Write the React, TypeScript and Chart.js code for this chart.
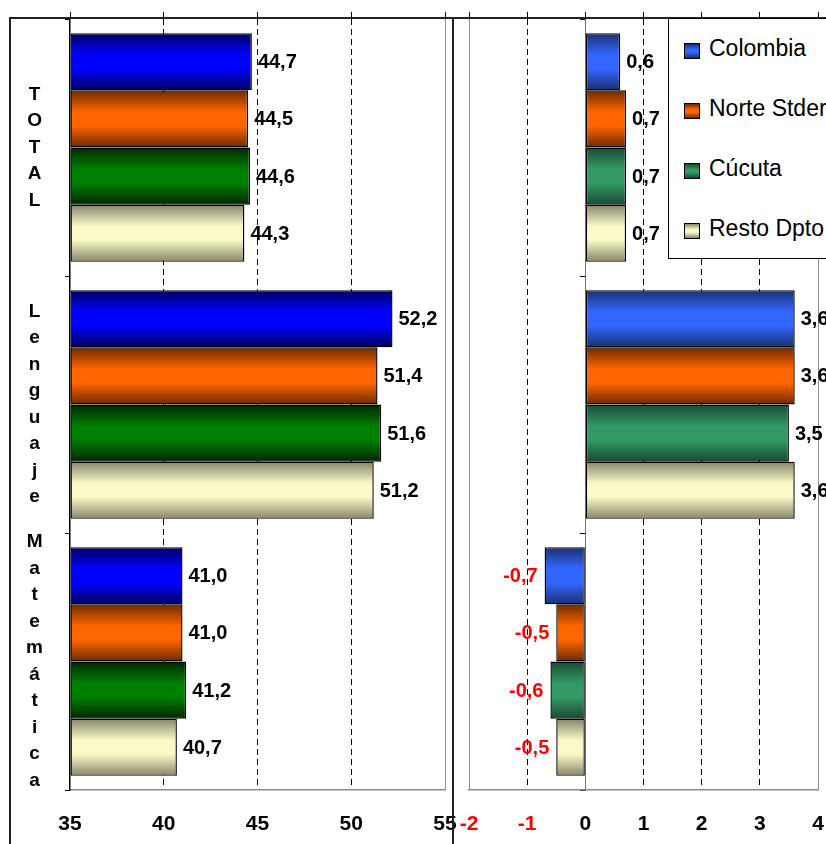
import React, { useEffect, useRef } from 'react';
import { Chart, registerables } from 'chart.js';

Chart.register(...registerables);

// ---------- data ----------
const CATEGORIES = ['TOTAL', 'Lenguaje', 'Matemática'];
const SERIES = ['Colombia', 'Norte Stder', 'Cúcuta', 'Resto Dpto'];

const LEVEL_COLOMBIA = [44.7, 52.2, 41.0];
const LEVEL_NORTE = [44.5, 51.4, 41.0];
const LEVEL_CUCUTA = [44.6, 51.6, 41.2];
const LEVEL_RESTO = [44.3, 51.2, 40.7];

const CHANGE_COLOMBIA = [0.6, 3.6, -0.7];
const CHANGE_NORTE = [0.7, 3.6, -0.5];
const CHANGE_CUCUTA = [0.7, 3.5, -0.6];
const CHANGE_RESTO = [0.7, 3.6, -0.5];

const LEFT_TICKS = [35, 40, 45, 50, 55];
const RIGHT_TICKS = [-2, -1, 0, 1, 2, 3, 4];

const LEVELS = [LEVEL_COLOMBIA, LEVEL_NORTE, LEVEL_CUCUTA, LEVEL_RESTO];
const CHANGES = [CHANGE_COLOMBIA, CHANGE_NORTE, CHANGE_CUCUTA, CHANGE_RESTO];

// ---------- styles ----------
const FONT = '"Liberation Sans", Arial, Helvetica, sans-serif';
const CAT_PCT = 0.89;

const LEFT_COLORS = [
  { bright: '#0000FF', dark: '#000060' },
  { bright: '#FF6600', dark: '#6B2A00' },
  { bright: '#008000', dark: '#002600' },
  { bright: '#FAFAC8', dark: '#85856A' },
];
const RIGHT_COLORS = [
  { bright: '#3366FF', dark: '#1A3070' },
  { bright: '#FF6600', dark: '#6B2A00' },
  { bright: '#339966', dark: '#1A4A33' },
  { bright: '#FAFAC8', dark: '#85856A' },
];

function gradientFill(bright: string, dark: string) {
  return (ctx: any) => {
    const chart = ctx.chart;
    const ys = chart.scales && chart.scales.y;
    if (!chart.chartArea || !ys || ctx.type !== 'data') return bright;
    const n = chart.data.datasets.length;
    const cat = chart.chartArea.height / chart.data.labels.length;
    const group = cat * CAT_PCT;
    const bh = group / n;
    const center = ys.getPixelForValue(ctx.dataIndex);
    const top = center - group / 2 + ctx.datasetIndex * bh;
    const g = chart.ctx.createLinearGradient(0, top, 0, top + bh);
    g.addColorStop(0, dark);
    g.addColorStop(0.38, bright);
    g.addColorStop(0.62, bright);
    g.addColorStop(1, dark);
    return g;
  };
}

const valueLabels = {
  id: 'valueLabels',
  afterDatasetsDraw(chart: any) {
    const { ctx } = chart;
    ctx.save();
    ctx.font = `bold 20px ${FONT}`;
    ctx.textBaseline = 'middle';
    chart.data.datasets.forEach((ds: any, di: number) => {
      const meta = chart.getDatasetMeta(di);
      meta.data.forEach((el: any, i: number) => {
        const v = ds.data[i] as number;
        const txt = v.toFixed(1).replace('.', ',');
        const neg = v < 0;
        ctx.fillStyle = neg ? '#FF0000' : '#000000';
        ctx.textAlign = neg ? 'right' : 'left';
        ctx.fillText(txt, el.x + (neg ? -7 : 6), el.y + 1);
      });
    });
    ctx.restore();
  },
};

function zeroPad(s: any) {
  s.paddingLeft = 0;
  s.paddingRight = 0;
  s.paddingTop = 0;
  s.paddingBottom = 0;
}

function makeConfig(side: 'left' | 'right'): any {
  const isLeft = side === 'left';
  const values = isLeft ? LEVELS : CHANGES;
  const colors = isLeft ? LEFT_COLORS : RIGHT_COLORS;
  const ticks = isLeft ? LEFT_TICKS : RIGHT_TICKS;
  const min = ticks[0];
  const max = ticks[ticks.length - 1];
  const base = isLeft ? min : 0;

  const gridColor = (c: any) => {
    const v = c.tick ? c.tick.value : null;
    if (v === base) return 'rgba(0,0,0,0)';
    if (v === min || v === max) return '#8C8C8C';
    return '#000000';
  };
  const gridDash = (c: any) => {
    const v = c.tick ? c.tick.value : null;
    if (v === null || v === min || v === max || v === base) return [];
    return [6, 4];
  };

  return {
    type: 'bar',
    data: {
      labels: CATEGORIES,
      datasets: SERIES.map((name, i) => ({
        label: name,
        data: values[i],
        base,
        xAxisID: 'x',
        yAxisID: 'y',
        backgroundColor: gradientFill(colors[i].bright, colors[i].dark),
        borderColor: '#000000',
        borderWidth: 1.4,
        borderSkipped: false,
        categoryPercentage: CAT_PCT,
        barPercentage: 1,
      })),
    },
    options: {
      indexAxis: 'y',
      responsive: true,
      maintainAspectRatio: false,
      animation: false,
      events: [],
      layout: {
        padding: isLeft
          ? { top: 12, left: 10, right: 11, bottom: 0 }
          : { top: 12, left: 13, right: 8, bottom: 0 },
      },
      plugins: { legend: { display: false }, tooltip: { enabled: false } },
      scales: {
        x: {
          type: 'linear',
          position: 'bottom',
          min,
          max,
          afterBuildTicks: (s: any) => {
            s.ticks = ticks.map((value) => ({ value }));
          },
          afterFit: (s: any) => {
            s.height = 54;
            zeroPad(s);
          },
          ticks: {
            padding: 22,
            font: { family: FONT, size: 21, weight: 'bold' },
            color: (c: any) => (c.tick && c.tick.value < 0 ? '#FF0000' : '#000000'),
            callback: (v: any) => String(v),
          },
          grid: { drawTicks: false, color: gridColor, lineWidth: 1 },
          border: { display: true, color: '#8C8C8C', width: 1.5, dash: gridDash },
        },
        xTop: {
          type: 'linear',
          position: 'top',
          min,
          max,
          afterBuildTicks: (s: any) => {
            s.ticks = ticks.map((value) => ({ value }));
          },
          afterFit: (s: any) => {
            s.height = 7;
            zeroPad(s);
          },
          ticks: { display: false },
          grid: { drawOnChartArea: false, drawTicks: true, tickLength: 7, color: '#000000' },
          border: { display: false },
        },
        y: isLeft
          ? {
              type: 'category',
              position: 'left',
              afterFit: (s: any) => {
                s.width = 60;
                zeroPad(s);
              },
              ticks: {
                autoSkip: false,
                color: '#000000',
                crossAlign: 'center',
                padding: 22,
                font: { family: FONT, size: 19, weight: 'bold', lineHeight: 26.5 / 19 },
                callback: (_v: any, i: number) => CATEGORIES[i].split(''),
              },
              grid: { drawOnChartArea: false, drawTicks: true, tickLength: 5, color: '#000000', offset: true },
              border: { display: true, color: '#000000', width: 1.5 },
            }
          : {
              type: 'category',
              position: { x: 0 },
              afterFit: (s: any) => {
                zeroPad(s);
              },
              ticks: { display: false },
              grid: { drawOnChartArea: false, drawTicks: true, tickLength: 5, color: '#000000', offset: true },
              border: { display: true, color: '#707070', width: 1 },
            },
      },
    },
    plugins: [valueLabels],
  };
}

function Panel({ side, left, width }: { side: 'left' | 'right'; left: number; width: number }) {
  const ref = useRef<HTMLCanvasElement>(null);
  useEffect(() => {
    const chart = new Chart(ref.current as HTMLCanvasElement, makeConfig(side));
    return () => chart.destroy();
  }, [side]);
  return (
    <div style={{ position: 'absolute', left, top: 0, width, height: 844 }}>
      <canvas ref={ref} />
    </div>
  );
}

function Legend() {
  return (
    <div
      style={{
        position: 'absolute',
        left: 668,
        top: 18,
        width: 180,
        height: 241,
        border: '1px solid #000',
        background: '#fff',
        boxSizing: 'border-box',
      }}
    >
      {SERIES.map((name, i) => (
        <div
          key={name}
          style={{
            position: 'absolute',
            left: 15,
            top: 14 + i * 60,
            height: 30,
            display: 'flex',
            alignItems: 'center',
            whiteSpace: 'nowrap',
          }}
        >
          <span
            style={{
              display: 'inline-block',
              width: 14,
              height: 14,
              border: '1px solid #000',
              marginRight: 9,
              position: 'relative',
              top: 3,
              background: `linear-gradient(to bottom, ${RIGHT_COLORS[i].dark} 0%, ${RIGHT_COLORS[i].bright} 40%, ${RIGHT_COLORS[i].bright} 60%, ${RIGHT_COLORS[i].dark} 100%)`,
            }}
          />
          <span style={{ fontFamily: FONT, fontSize: 23, color: '#000' }}>{name}</span>
        </div>
      ))}
    </div>
  );
}

export default function App() {
  return (
    <div
      style={{
        position: 'fixed',
        left: 0,
        top: 0,
        width: 826,
        height: 844,
        overflow: 'hidden',
        background: '#fff',
      }}
    >
      <Panel side="left" left={0} width={456} />
      <Panel side="right" left={456} width={370} />
      {/* frame */}
      <div
        style={{
          position: 'absolute',
          left: 9,
          top: 17,
          width: 445,
          height: 900,
          borderLeft: '2px solid #222',
          borderTop: '2px solid #222',
          borderRight: '2px solid #222',
          boxSizing: 'border-box',
        }}
      />
      <div
        style={{
          position: 'absolute',
          left: 454,
          top: 17,
          width: 372,
          height: 0,
          borderTop: '2px solid #222',
        }}
      />
      <Legend />
    </div>
  );
}
